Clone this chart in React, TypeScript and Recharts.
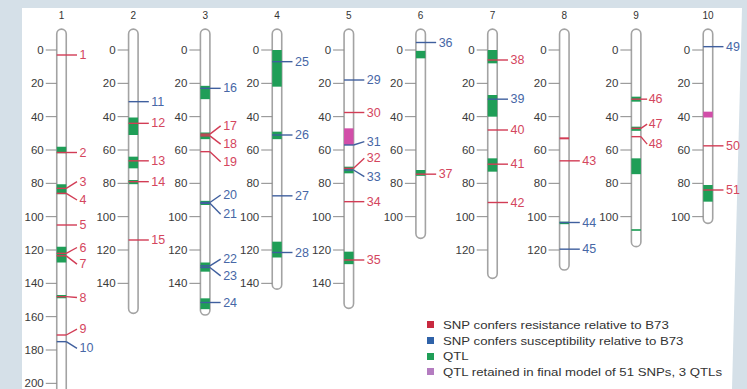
import React from 'react';
import { ComposedChart, XAxis, YAxis, ReferenceArea, ReferenceLine, Scatter, Legend } from 'recharts';

// ---------- data ----------
const chromosomeNames = ['1', '2', '3', '4', '5', '6', '7', '8', '9', '10'];
const chromosomeTop = -12.5;
const chromosomeEnds = [215, 158, 159, 143.5, 155, 113, 137, 132, 118, 104];
const axisMaxima = [200, 140, 140, 140, 140, 100, 120, 120, 100, 100];
const axisStep = 20;

// QTL blocks: [chromosome, start, end]
const qtlBlocks: [number, number, number][] = [
  [1, 58, 62], [1, 80.5, 86.5], [1, 118, 127.5], [1, 147, 149],
  [2, 40.5, 51], [2, 64, 71], [2, 78, 80.5],
  [3, 21.5, 29.5], [3, 49.5, 53.5], [3, 90.5, 93], [3, 127.5, 133], [3, 149, 155.5],
  [4, 0, 22], [4, 49, 53.5], [4, 115, 124.5],
  [5, 70, 74], [5, 121, 128.5],
  [6, 0.5, 5], [6, 72, 75.5],
  [7, 0, 8], [7, 27, 40], [7, 65, 73],
  [8, 103, 104.5],
  [9, 28, 31], [9, 46, 48.5], [9, 65, 74.5], [9, 107.5, 108.5],
  [10, 81, 91],
];
// QTLs retained in final model
const keptQtlBlocks: [number, number, number][] = [
  [5, 47, 57],
  [10, 37, 40.5],
];

const snpChromosome = [1, 1, 1, 1, 1, 1, 1, 1, 1, 1, 2, 2, 2, 2, 2, 3, 3, 3, 3, 3, 3, 3, 3, 3, 4, 4, 4, 4, 5, 5, 5, 5, 5, 5, 5, 6, 6, 7, 7, 7, 7, 7, 8, 8, 8, 9, 9, 9, 10, 10, 10];
const snpPosition = [3, 61.5, 83, 86, 105, 122, 123.5, 148, 171, 175, 31, 44, 66.5, 79, 114, 23, 50.5, 51.5, 61, 91.5, 92, 129.5, 130.5, 151.5, 7, 51, 87.5, 121.5, 18, 37.5, 57, 71, 72, 91, 126, -4.5, 74.5, 6, 29.5, 48, 68.5, 91.5, 66.5, 103.5, 119.5, 29.5, 47, 52, -2, 57.5, 84];
const snpLabelPosition = [3, 61.5, 79, 90, 105, 118.5, 128.5, 148.5, 167.5, 179, 31, 44, 66.5, 79, 114, 23, 45.5, 56.5, 67, 87, 98.5, 125.5, 135.5, 151.5, 7, 51, 87.5, 121.5, 18, 37.5, 55, 65, 76, 91, 126, -4.5, 74.5, 6, 29.5, 48, 68.5, 91.5, 66.5, 103.5, 119.5, 29.5, 44.5, 56.5, -2, 57.5, 84];
const snpEffect = ['R', 'R', 'R', 'R', 'R', 'R', 'R', 'R', 'R', 'S', 'S', 'R', 'R', 'R', 'R', 'S', 'R', 'R', 'R', 'S', 'S', 'S', 'S', 'S', 'S', 'S', 'S', 'S', 'S', 'R', 'S', 'R', 'S', 'R', 'R', 'S', 'R', 'R', 'S', 'R', 'R', 'R', 'R', 'S', 'S', 'R', 'R', 'R', 'S', 'R', 'R'];
// unlabeled marks: [chromosome, position, effect]
const unlabeledMarks: [number, number, string][] = [[8, 53, 'R']];

const legendLabels = [
  'SNP confers resistance relative to B73',
  'SNP confers susceptibility relative to B73',
  'QTL',
  'QTL retained in final model of 51 SNPs, 3 QTLs',
];
const legendColors = ['#c8293f', '#2f62a8', '#1f9e57', '#b47cc0'];

// ---------- styling / layout ----------
const W = 747;
const H = 389;
const FONT = "'Liberation Sans', Arial, Helvetica, sans-serif";
const RES_LINE = '#d23c55';
const RES_TEXT = '#d4465e';
const SUS_LINE = '#3f5f9e';
const SUS_TEXT = '#4767a6';
const QTL_COLOR = '#1f9e57';
const KEPT_COLOR = '#d24ea9';
const X_DOMAIN: [number, number] = [0.1438, 10.5434];
const Y_DOMAIN: [number, number] = [-30, 203.4];
const PX_PER_X = W / (X_DOMAIN[1] - X_DOMAIN[0]);
const HW = 4.75 / PX_PER_X;
const LINE_END = (c: number) => (c === 9 ? 11 : 15.5) / PX_PER_X;
const LABEL_DX = (c: number) => (c === 9 ? 12.5 : 18) / PX_PER_X;

const chromShape = (p: any) => (
  <rect x={p.x} y={p.y} width={p.width} height={p.height} rx={p.width / 2} ry={p.width / 2}
    fill="#ffffff" stroke="#a3a3a3" strokeWidth={1.6} />
);

const tickData: any[] = [];
chromosomeNames.forEach((_, i) => {
  for (let t = 0; t <= axisMaxima[i]; t += axisStep) {
    tickData.push({ x: i + 1 - HW, y: t, label: String(t) });
  }
});
const nameData = chromosomeNames.map((n, i) => ({ x: i + 1, y: -21, label: n }));
const snpLabelData = snpPosition.map((_, k) => ({
  x: snpChromosome[k] + LABEL_DX(snpChromosome[k]),
  y: snpLabelPosition[k],
  label: String(k + 1),
  color: snpEffect[k] === 'R' ? RES_TEXT : SUS_TEXT,
}));

const tickShape = (p: any) => (
  <g>
    <line x1={p.cx - 11} x2={p.cx} y1={p.cy} y2={p.cy} stroke="#8a8a8a" strokeWidth={1} />
    <text x={p.cx - 13} y={p.cy} textAnchor="end" dominantBaseline="central" fontSize={11.5} fill="#3a3a3a" fontFamily={FONT}>
      {p.payload.label}
    </text>
  </g>
);
const nameShape = (p: any) => (
  <text x={p.cx} y={p.cy} textAnchor="middle" dominantBaseline="central" fontSize={10} fill="#333" fontFamily={FONT}>
    {p.payload.label}
  </text>
);
const snpLabelShape = (p: any) => (
  <text x={p.cx} y={p.cy} textAnchor="start" dominantBaseline="central" fontSize={12.5} fill={p.payload.color} fontFamily={FONT}>
    {p.payload.label}
  </text>
);

const renderLegend = () => (
  <div style={{ fontFamily: FONT, fontSize: 11, color: '#333' }}>
    {legendLabels.map((l, i) => (
      <div key={l} style={{ display: 'flex', alignItems: 'center', height: 15.7 }}>
        <span style={{ width: 7, height: 7, background: legendColors[i], marginRight: 8.7, flex: 'none' }} />
        <span style={{ display: 'inline-block', whiteSpace: 'nowrap', transform: 'scaleX(1.2)', transformOrigin: 'left center' }}>{l}</span>
      </div>
    ))}
  </div>
);

export default function App() {
  const snpLines: React.ReactNode[] = [];
  snpPosition.forEach((pos, k) => {
    const c = snpChromosome[k];
    const color = snpEffect[k] === 'R' ? RES_LINE : SUS_LINE;
    const lp = snpLabelPosition[k];
    if (lp === pos) {
      snpLines.push(
        <ReferenceLine key={`s${k}`} segment={[{ x: c - HW, y: pos }, { x: c + LINE_END(c), y: pos }]} stroke={color} strokeWidth={1.4} />
      );
    } else {
      snpLines.push(
        <ReferenceLine key={`a${k}`} segment={[{ x: c - HW, y: pos }, { x: c + HW, y: pos }]} stroke={color} strokeWidth={1.4} />,
        <ReferenceLine key={`b${k}`} segment={[{ x: c + HW, y: pos }, { x: c + LINE_END(c), y: lp }]} stroke={color} strokeWidth={1.4} />
      );
    }
  });
  unlabeledMarks.forEach(([c, pos, eff], k) => {
    snpLines.push(
      <ReferenceLine key={`u${k}`} segment={[{ x: c - HW, y: pos }, { x: c + HW, y: pos }]} stroke={eff === 'R' ? RES_LINE : SUS_LINE} strokeWidth={2} />
    );
  });

  return (
    <div style={{ position: 'absolute', left: 0, top: 0, width: W, height: H, background: '#d5e0e8', overflow: 'hidden' }}>
      <div style={{ position: 'absolute', left: 0, top: 0, width: W, height: H, background: '#ffffff', clipPath: 'polygon(22px 8px, 742px 8px, 732px 389px, 22px 389px)' }} />
      <div style={{ position: 'absolute', left: 0, top: 0 }}>
        <ComposedChart width={W} height={H} margin={{ top: 0, right: 0, bottom: 0, left: 0 }} style={{ fontFamily: FONT }}>
          <XAxis type="number" dataKey="x" domain={X_DOMAIN} allowDataOverflow hide />
          <YAxis type="number" dataKey="y" domain={Y_DOMAIN} allowDataOverflow reversed hide />
          {chromosomeNames.map((n, i) => (
            <ReferenceArea key={`c${n}`} x1={i + 1 - HW} x2={i + 1 + HW} y1={chromosomeTop} y2={chromosomeEnds[i]}
              ifOverflow="visible" shape={chromShape} />
          ))}
          {qtlBlocks.map(([c, s, e], k) => (
            <ReferenceArea key={`q${k}`} x1={c - HW} x2={c + HW} y1={s} y2={e} fill={QTL_COLOR} fillOpacity={1} stroke="none" ifOverflow="visible" />
          ))}
          {keptQtlBlocks.map(([c, s, e], k) => (
            <ReferenceArea key={`k${k}`} x1={c - HW} x2={c + HW} y1={s} y2={e} fill={KEPT_COLOR} fillOpacity={1} stroke="none" ifOverflow="visible" />
          ))}
          {snpLines}
          <Scatter data={tickData} shape={tickShape} isAnimationActive={false} legendType="none" />
          <Scatter data={nameData} shape={nameShape} isAnimationActive={false} legendType="none" />
          <Scatter data={snpLabelData} shape={snpLabelShape} isAnimationActive={false} legendType="none" />
          <Legend content={renderLegend} layout="horizontal" verticalAlign="middle" align="center"
            wrapperStyle={{ left: 427, top: 317, width: 310, height: 64 }} />
        </ComposedChart>
      </div>
    </div>
  );
}
